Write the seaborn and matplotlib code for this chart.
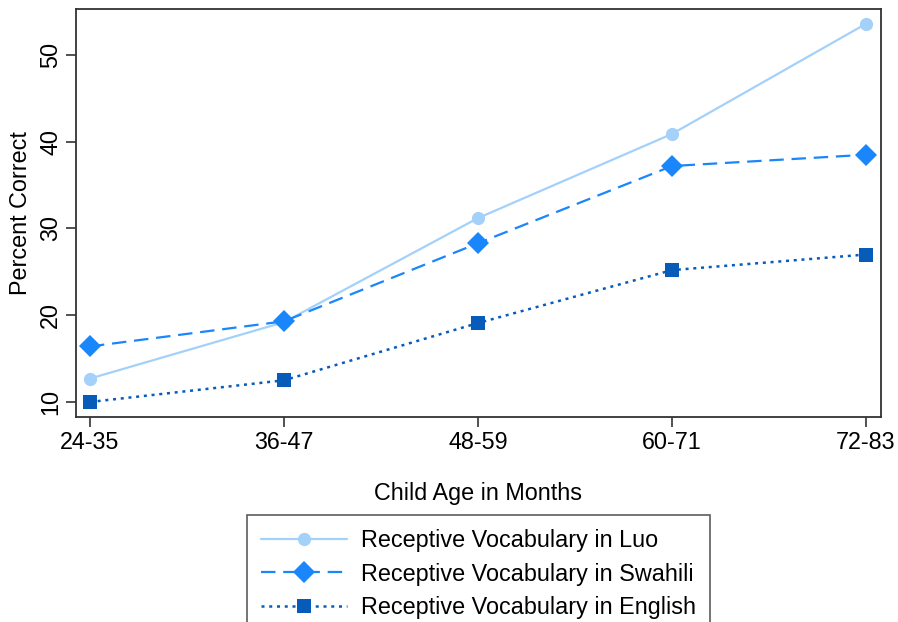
import matplotlib
matplotlib.use("Agg")
import matplotlib.pyplot as plt
import seaborn as sns
import pandas as pd

ages = ["24-35", "36-47", "48-59", "60-71", "72-83"]
luo = [12.7, 19.2, 31.2, 40.9, 53.6]
swahili = [16.4, 19.3, 28.3, 37.2, 38.5]
english = [10.0, 12.5, 19.1, 25.2, 27.0]
series_names = ["Receptive Vocabulary in Luo",
                "Receptive Vocabulary in Swahili",
                "Receptive Vocabulary in English"]

sns.set_theme(style="white")
plt.rcParams['font.family'] = ['Liberation Sans', 'DejaVu Sans']
plt.rcParams['text.color'] = 'black'

fig = plt.figure(figsize=(8.98, 6.22), dpi=100)
ax = fig.add_axes([0.0846, 0.3296, 0.8964, 0.6559])

pos = list(range(len(ages)))
styles = [
    dict(color="#a3d1fa", linestyle="-", marker="o", markersize=9.5, lw=1.6),
    dict(color="#1a86fb", linestyle=(0, (6.5, 3.5)), marker="D", markersize=11.5, lw=1.6),
    dict(color="#075cb9", linestyle=(0, (1.2, 1.9)), marker="s", markersize=10, lw=1.8),
]
for vals, name, st in zip([luo, swahili, english], series_names, styles):
    df = pd.DataFrame({"pos": pos, "val": vals})
    sns.lineplot(data=df, x="pos", y="val", ax=ax, label=name,
                 color=st["color"], linestyle=st["linestyle"], marker=st["marker"],
                 markersize=st["markersize"], linewidth=st["lw"],
                 markeredgewidth=0, markeredgecolor=st["color"])

ax.set_xlim(-0.072, 4.077)
ax.set_ylim(8.27, 55.3)
ax.set_xticks(pos)
ax.set_xticklabels(ages)
ax.set_yticks([10, 20, 30, 40, 50])
ax.set_yticklabels(["10", "20", "30", "40", "50"], rotation=90, va="center")
ax.tick_params(axis="both", which="major", direction="out", length=7, width=1.2,
               color="#333333", labelsize=16.8, labelcolor="black", bottom=True, left=True, pad=3)
for s in ax.spines.values():
    s.set_color("#333333")
    s.set_linewidth(1.3)
ax.set_xlabel("Child Age in Months", fontsize=16.8, labelpad=20, color="black")
ax.set_ylabel("Percent Correct", fontsize=16.8, labelpad=5, color="black")

handles, labels = ax.get_legend_handles_labels()
ax.get_legend().remove()
leg = fig.legend(handles, labels, loc="upper center", bbox_to_anchor=(0.533, 1 - 515 / 622),
                 fontsize=16.8, frameon=True, fancybox=False, edgecolor="#333333",
                 handlelength=3.7, labelspacing=0.45, borderpad=0.6, handletextpad=0.6,
                 borderaxespad=0, labelcolor="black")
leg.get_frame().set_linewidth(1.2)

fig.savefig("out.png", dpi=100)
